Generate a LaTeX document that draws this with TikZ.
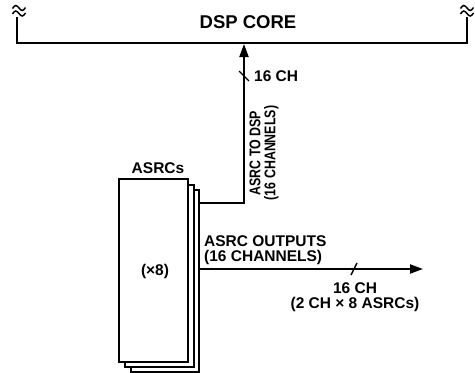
\documentclass[tikz,border=0pt]{standalone}
\usepackage{fontspec}
\setmainfont{Liberation Sans}
\usetikzlibrary{arrows.meta}
\tikzset{
  wire/.style={line width=2pt},
  arr/.style={wire,-{Triangle[length=13pt,width=9pt]}},
  lbl/.style={font=\bfseries\fontsize{15.5}{15}\selectfont, inner sep=0pt},
  bigl/.style={font=\bfseries\fontsize{18.5}{18}\selectfont, inner sep=0pt},
  asrcbox/.style={wire, fill=white},
  squig/.style={line width=1.5pt}
}
\begin{document}
\begin{tikzpicture}[x=1pt,y=-1pt]
\useasboundingbox (0,0) rectangle (475,373);
% DSP core bracket
\coordinate (bl) at (17,17);
\coordinate (br) at (467,17);
\draw[wire] (bl) -- (17,43) -- (467,43) -- (br);
\foreach \cx in {19,467}{
  \foreach \cy in {8,13.5}{
    \draw[squig] (\cx-6.5,\cy+0.5) sin (\cx-3.25,\cy-2.5) cos (\cx,\cy) sin (\cx+3.25,\cy+2.5) cos (\cx+6.5,\cy-0.5);
  }
}
\node[bigl] (dsp) at (248,22) {DSP CORE};
\coordinate (dspin) at (244,44);
% ASRC boxes
\draw[asrcbox] (131,190) rectangle (199,372);
\draw[asrcbox] (125,185) rectangle (194,367);
\draw[asrcbox] (119,179) rectangle (188,362);
\coordinate (b3top) at (199,203);
\coordinate (b3bot) at (199,269);
\node[lbl] (asrcs) at (158,168) {ASRCs};
\node[lbl] (x8) at (155,271) {(×8)};
% ASRC to DSP
\coordinate (corner) at (244,203);
\draw[arr] (b3top) -- (corner) -- (dspin);
\coordinate (s1a) at (239,71);
\coordinate (s1b) at (249,81);
\draw[line width=1.4pt] (s1a) -- (s1b);
\node[lbl, anchor=west] (ch1) at (254,76) {16 CH};
\node[lbl, rotate=90, align=center] (todsp) at (264,153) {\scalebox{0.8}[1]{ASRC TO DSP}\\\scalebox{0.8}[1]{(16 CHANNELS)}};
% outputs
\coordinate (outend) at (423,269);
\draw[arr] (b3bot) -- (outend);
\coordinate (s2a) at (351,275);
\coordinate (s2b) at (357,263);
\draw[line width=1.4pt] (s2a) -- (s2b);
\node[lbl, anchor=west, align=left] (outs) at (204,250.5) {ASRC OUTPUTS\\(16 CHANNELS)};
\node[lbl, align=center] (ch2) at (355,297.5) {16 CH\\(2 CH × 8 ASRCs)};
\end{tikzpicture}
\end{document}
